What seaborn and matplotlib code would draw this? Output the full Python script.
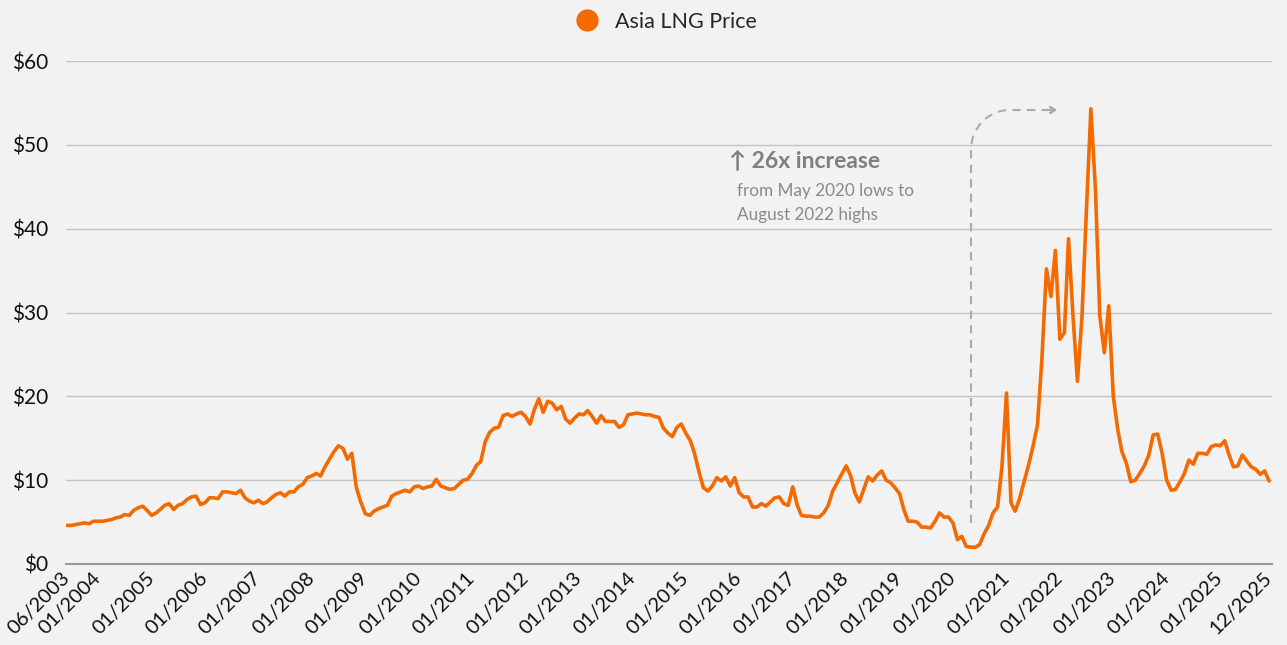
import pandas as pd
import matplotlib.pyplot as plt
import seaborn as sns
from matplotlib.path import Path
from matplotlib.patches import PathPatch
from matplotlib.lines import Line2D

# monthly Asia LNG price ($/MMBtu), Jun 2003 - Dec 2025
p2003 = [4.6, 4.6, 4.7, 4.8, 4.9, 4.8, 5.1]
p2004 = [5.1, 5.1, 5.2, 5.3, 5.5, 5.6, 5.9, 5.8, 6.4, 6.7, 6.9, 6.4]
p2005 = [5.8, 6.1, 6.5, 7.0, 7.2, 6.5, 7.0, 7.2, 7.7, 8.0, 8.1, 7.1]
p2006 = [7.3, 7.9, 7.9, 7.8, 8.6, 8.6, 8.5, 8.4, 8.8, 7.9, 7.5, 7.3]
p2007 = [7.6, 7.2, 7.4, 7.9, 8.3, 8.5, 8.1, 8.6, 8.6, 9.2, 9.5, 10.3]
p2008 = [10.5, 10.8, 10.5, 11.6, 12.5, 13.4, 14.1, 13.8, 12.5, 13.2, 9.1, 7.4]
p2009 = [6.0, 5.8, 6.3, 6.6, 6.8, 7.0, 8.1, 8.4, 8.6, 8.8, 8.6, 9.2]
p2010 = [9.3, 9.0, 9.2, 9.3, 10.1, 9.3, 9.1, 8.9, 9.0, 9.5, 10.0, 10.1]
p2011 = [10.8, 11.8, 12.2, 14.6, 15.7, 16.2, 16.3, 17.7, 17.9, 17.6, 17.9, 18.1]
p2012 = [17.6, 16.7, 18.4, 19.7, 18.1, 19.4, 19.2, 18.4, 18.8, 17.3, 16.8, 17.4]
p2013 = [17.9, 17.8, 18.3, 17.6, 16.8, 17.7, 17.0, 17.0, 17.0, 16.3, 16.6, 17.8]
p2014 = [17.9, 18.0, 17.9, 17.8, 17.8, 17.6, 17.5, 16.2, 15.6, 15.2, 16.3, 16.7]
p2015 = [15.6, 14.7, 13.2, 11.0, 9.1, 8.7, 9.3, 10.3, 9.9, 10.4, 9.3, 10.3]
p2016 = [8.5, 8.0, 8.0, 6.8, 6.8, 7.2, 6.9, 7.4, 7.9, 8.0, 7.2, 7.0]
p2017 = [9.2, 7.0, 5.8, 5.7, 5.7, 5.6, 5.6, 6.1, 7.0, 8.7, 9.7, 10.7]
p2018 = [11.7, 10.5, 8.5, 7.4, 8.9, 10.4, 9.9, 10.6, 11.1, 10.0, 9.7, 9.1]
p2019 = [8.4, 6.4, 5.1, 5.1, 5.0, 4.4, 4.4, 4.3, 5.1, 6.1, 5.6, 5.6]
p2020 = [4.9, 2.9, 3.3, 2.1, 2.0, 2.0, 2.3, 3.6, 4.6, 6.1, 6.8, 11.6]
p2021 = [20.4, 7.3, 6.3, 7.8, 9.8, 11.8, 14.0, 16.6, 24.7, 35.2, 31.9, 37.4]
p2022 = [26.8, 27.6, 38.8, 29.5, 21.8, 29.5, 42.0, 54.3, 44.7, 29.6, 25.2, 30.8]
p2023 = [20.0, 16.0, 13.4, 12.0, 9.8, 10.0, 10.8, 11.7, 13.0, 15.4, 15.5, 13.2]
p2024 = [10.0, 8.8, 8.9, 9.8, 10.8, 12.4, 11.9, 13.2, 13.2, 13.1, 14.0, 14.2]
p2025 = [14.1, 14.7, 13.1, 11.6, 11.7, 13.0, 12.3, 11.6, 11.3, 10.7, 11.1, 9.9]

tick_labels = ["06/2003", "01/2004", "01/2005", "01/2006", "01/2007", "01/2008",
               "01/2009", "01/2010", "01/2011", "01/2012", "01/2013", "01/2014",
               "01/2015", "01/2016", "01/2017", "01/2018", "01/2019", "01/2020",
               "01/2021", "01/2022", "01/2023", "01/2024", "01/2025", "12/2025"]
y_ticks = [0, 10, 20, 30, 40, 50, 60]
y_labels = ["$0", "$10", "$20", "$30", "$40", "$50", "$60"]

prices = (p2003 + p2004 + p2005 + p2006 + p2007 + p2008 + p2009 + p2010 + p2011
          + p2012 + p2013 + p2014 + p2015 + p2016 + p2017 + p2018 + p2019
          + p2020 + p2021 + p2022 + p2023 + p2024 + p2025)
df = pd.DataFrame({"date": pd.date_range("2003-06-01", periods=len(prices), freq="MS"),
                   "price": prices})

orange = "#F26A00"
bg = "#F2F2F2"

sns.set_style("white", {"axes.facecolor": bg, "figure.facecolor": bg})
plt.rcParams["font.family"] = ["Lato", "DejaVu Sans"]

W, H = 1287, 645
fig = plt.figure(figsize=(12.87, 6.45), dpi=100)
ax = fig.add_axes([66 / W, 1 - 564 / H, (1272 - 66) / W, (564 - 61) / H])

sns.lineplot(data=df, x="date", y="price", ax=ax, color=orange, lw=2.6, legend=False)

ax.set_ylim(0, 60)
ax.set_xlim(df["date"].iloc[0] - pd.Timedelta(days=5), df["date"].iloc[-1] + pd.Timedelta(days=20))
ax.set_yticks(y_ticks)
ax.set_yticklabels(y_labels, fontsize=15, color="#111111")
ax.set_xticks(pd.to_datetime(tick_labels, format="%m/%Y"))
ax.set_xticklabels(tick_labels, fontsize=14.5, color="#111111", rotation=45,
                   ha="right", va="center", rotation_mode="anchor")
ax.tick_params(axis="both", length=0)
ax.tick_params(axis="y", pad=13)
ax.tick_params(axis="x", pad=8)
ax.set_xlabel("")
ax.set_ylabel("")

ax.grid(axis="y", color="#C4C4C4", lw=1)
ax.set_axisbelow(True)
for s in ["top", "right", "left"]:
    ax.spines[s].set_visible(False)
ax.spines["bottom"].set_color("#9A9A9A")
ax.spines["bottom"].set_linewidth(1.5)

# legend
handle = Line2D([], [], marker="o", color=orange, lw=0, markersize=15)
fig.legend([handle], ["Asia LNG Price"], loc="center", bbox_to_anchor=(661 / W, 1 - 22 / H),
           frameon=False, fontsize=15.5, handletextpad=0.3)

# annotation
fig.text(729 / W, 1 - 161 / H, "\u2191 26x increase", fontsize=16.5, fontweight="bold",
         color="#7F7F7F", va="center", ha="left")
fig.text(737 / W, 1 - 191 / H, "from May 2020 lows to", fontsize=12.3,
         color="#8A8A8A", va="center", ha="left")
fig.text(737 / W, 1 - 215 / H, "August 2022 highs", fontsize=12.3,
         color="#8A8A8A", va="center", ha="left")

def fpt(x, y):
    return (x / W, 1 - y / H)

verts = [fpt(971, 523), fpt(971, 150), fpt(971, 128), fpt(988, 110), fpt(1010, 110),
         fpt(1052, 110)]
codes = [Path.MOVETO, Path.LINETO, Path.CURVE4, Path.CURVE4, Path.CURVE4, Path.LINETO]
arrow_path = PathPatch(Path(verts, codes), fill=False, edgecolor="#ABABAB", lw=1.5,
                       linestyle=(0, (4, 3)), transform=fig.transFigure)
fig.add_artist(arrow_path)
fig.add_artist(plt.annotate("", xy=fpt(1057, 110), xytext=fpt(1049, 110),
                            xycoords="figure fraction",
                            arrowprops=dict(arrowstyle="->,head_length=0.35,head_width=0.22",
                                            color="#ABABAB", lw=1.5,
                                            shrinkA=0, shrinkB=0)))

fig.savefig("out.png", dpi=100, facecolor=bg)
